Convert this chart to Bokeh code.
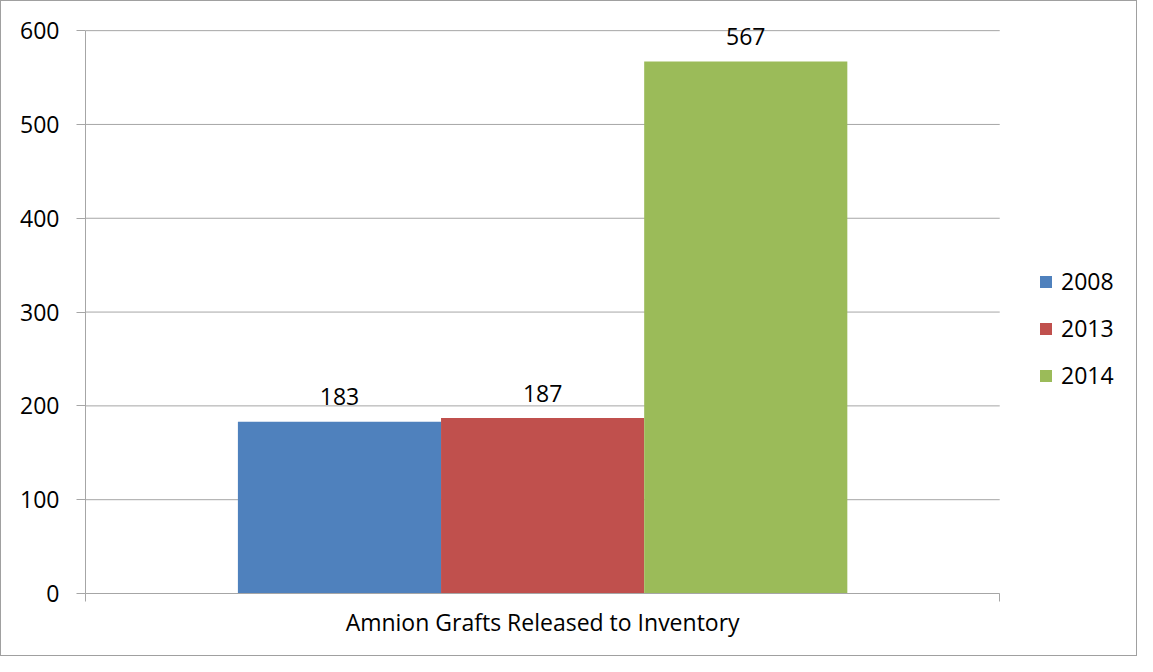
from bokeh.plotting import figure
from bokeh.models import ColumnDataSource, FixedTicker, Range1d, Legend, LegendItem, LinearAxis
from bokeh.core.properties import value
from bokeh.embed import file_html
from bokeh.resources import INLINE

category = "Amnion Grafts Released to Inventory"
years = ["2008", "2013", "2014"]
grafts = [183, 187, 567]
colors = ["#4F81BD", "#C0504D", "#9BBB59"]
y_ticks = [0, 100, 200, 300, 400, 500, 600]

FONT = "Open Sans"
FS = "23px"
GRID = "#a6a6a6"
bar_w = 0.2222
n = len(years)
xs = [0.5 + (i - (n - 1) / 2) * bar_w for i in range(n)]

p = figure(width=1137, height=656, output_backend="svg", toolbar_location=None,
           x_range=Range1d(0, 1.1507), y_range=Range1d(0, 630),
           min_border_left=84, min_border_right=1, min_border_top=1, min_border_bottom=64)
p.styles = {"border": "1px solid #a0a0a0"}
p.outline_line_color = None
p.background_fill_color = "white"
p.border_fill_color = "white"

# horizontal gridlines across the category span only
p.segment(x0=[0] * len(y_ticks), x1=[1] * len(y_ticks), y0=y_ticks, y1=y_ticks,
          line_color=GRID, line_width=1)

renderers = []
for i in range(n):
    src = ColumnDataSource(dict(x=[xs[i]], top=[grafts[i]], lab=[str(grafts[i])]))
    r = p.vbar(x="x", top="top", bottom=0, width=bar_w, source=src,
               fill_color=colors[i], line_color=None)
    renderers.append(r)
    p.text(x="x", y="top", text="lab", source=src, text_align="center", text_baseline="middle",
           y_offset=-25, text_font=value(FONT), text_font_size=FS, text_color="black")

# y axis
p.yaxis.ticker = FixedTicker(ticks=y_ticks)
p.yaxis.bounds = (0, 600)
p.yaxis.minor_tick_line_color = None
p.yaxis.major_tick_in = 0
p.yaxis.major_tick_out = 9
p.yaxis.axis_line_color = GRID
p.yaxis.major_tick_line_color = GRID
p.yaxis.major_label_text_font = FONT
p.yaxis.major_label_text_font_size = FS
p.yaxis.major_label_text_color = "black"
p.yaxis.major_label_standoff = 17
p.ygrid.grid_line_color = None

# x axis: line + boundary ticks
xa = p.xaxis[0]
xa.ticker = FixedTicker(ticks=[0, 1])
xa.bounds = (0, 1)
xa.major_label_overrides = {0: "", 1: ""}
xa.major_label_text_font_size = "0px"
xa.minor_tick_line_color = None
xa.major_tick_in = 0
xa.major_tick_out = 8
xa.axis_line_color = GRID
xa.major_tick_line_color = GRID
xa.major_label_standoff = 0
p.xgrid.grid_line_color = None

# category label axis
xb = LinearAxis(ticker=FixedTicker(ticks=[0.5]), major_label_overrides={0.5: category})
xb.axis_line_color = None
xb.major_tick_line_color = None
xb.minor_tick_line_color = None
xb.major_tick_in = 0
xb.major_tick_out = 0
xb.major_label_standoff = 4
xb.major_label_text_font = FONT
xb.major_label_text_font_size = FS
xb.major_label_text_color = "black"
p.add_layout(xb, "below")

legend = Legend(items=[LegendItem(label=years[i], renderers=[renderers[i]]) for i in range(n)],
                location=(953, 202), orientation="vertical")
legend.border_line_color = None
legend.background_fill_alpha = 0
legend.padding = 0
legend.margin = 0
legend.glyph_width = 15
legend.glyph_height = 15
legend.label_standoff = 8
legend.spacing = 15
legend.label_text_font = FONT
legend.label_text_font_size = FS
legend.label_text_color = "black"
p.add_layout(legend, "center")

open("out.html", "w").write(file_html(p, INLINE))
